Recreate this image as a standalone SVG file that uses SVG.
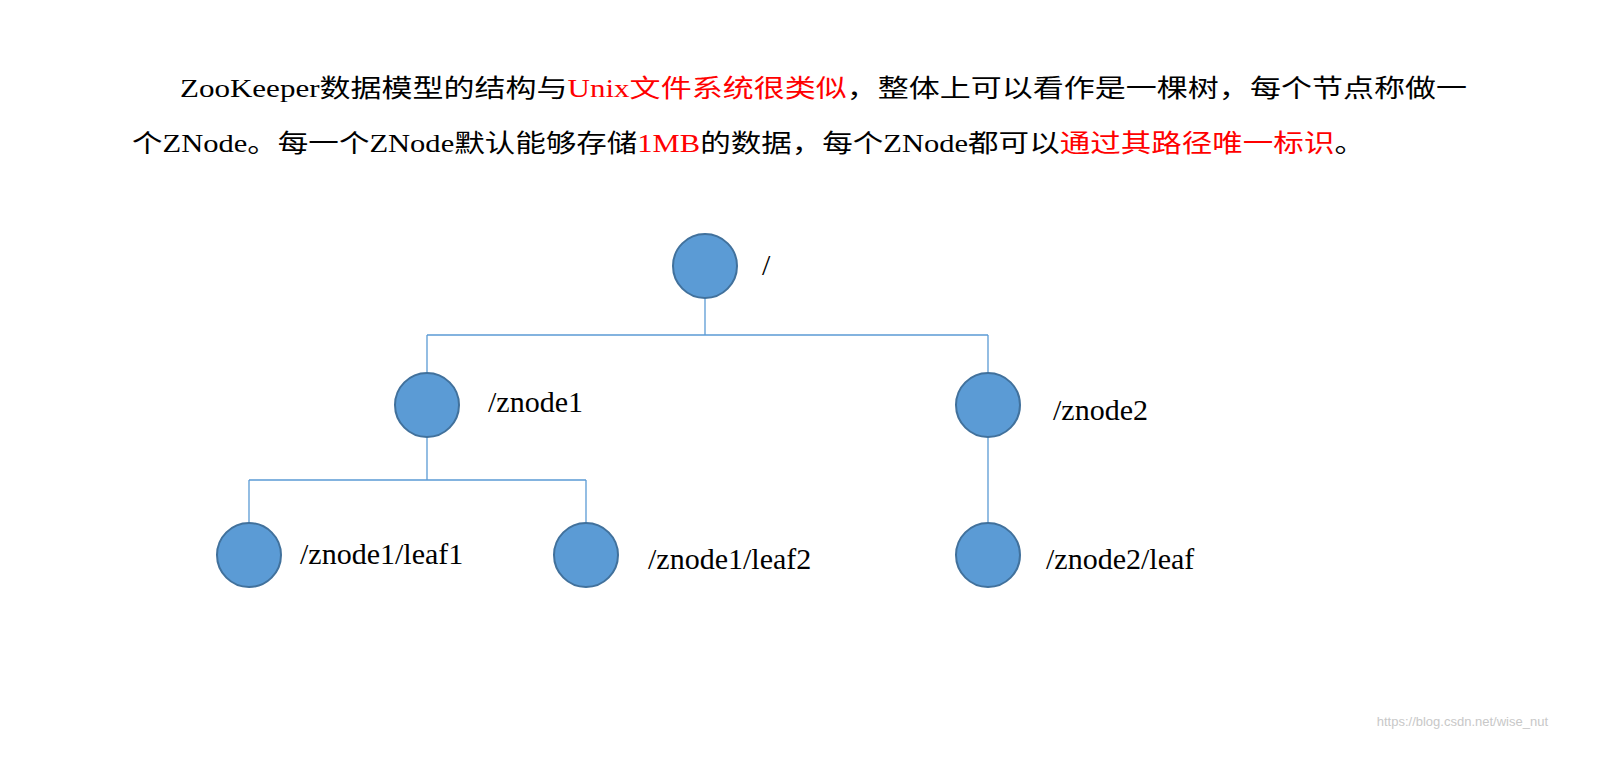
<svg xmlns="http://www.w3.org/2000/svg" width="1598" height="759" viewBox="0 0 1598 759">
<style>
.t{font-family:"Liberation Serif","Noto Sans CJK SC",serif;font-size:25px;fill:#000}
.r{fill:#ff0000}
.n{fill:#5b9bd5;stroke:#41719c;stroke-width:2}
.l{font-family:"Liberation Serif",serif;font-size:30px;fill:#000}
.c{fill:none;stroke:#5b9bd5;stroke-width:1.3}
</style>
<rect width="1598" height="759" fill="#fff"/>
<text class="t" x="180" y="97" textLength="1287" lengthAdjust="spacingAndGlyphs">ZooKeeper数据模型的结构与<tspan class="r">Unix文件系统很类似</tspan>，整体上可以看作是一棵树，每个节点称做一</text>
<text class="t" x="132" y="152" textLength="1233" lengthAdjust="spacingAndGlyphs">个ZNode。每一个ZNode默认能够存储<tspan class="r">1MB</tspan>的数据，每个ZNode都可以<tspan class="r">通过其路径唯一标识</tspan>。</text>
<g id="connectors">
<path class="c" d="M705 298V335M427 335H988M427 335V373M988 335V373M427 437V480M249 480H586M249 480V523M586 480V523M988 437V523"/>
</g>
<g id="root"><circle class="n" cx="705" cy="266" r="32"/><text class="l" x="762" y="275">/</text></g>
<g id="znode1"><circle class="n" cx="427" cy="405" r="32"/><text class="l" x="488" y="412">/znode1</text></g>
<g id="znode2"><circle class="n" cx="988" cy="405" r="32"/><text class="l" x="1053" y="420">/znode2</text></g>
<g id="leaf1"><circle class="n" cx="249" cy="555" r="32"/><text class="l" x="300" y="564">/znode1/leaf1</text></g>
<g id="leaf2"><circle class="n" cx="586" cy="555" r="32"/><text class="l" x="648" y="569">/znode1/leaf2</text></g>
<g id="leaf3"><circle class="n" cx="988" cy="555" r="32"/><text class="l" x="1046" y="569">/znode2/leaf</text></g>
<text x="1548" y="726" text-anchor="end" font-family="Liberation Sans,sans-serif" font-size="13" fill="#c8c8c8">https://blog.csdn.net/wise_nut</text>
</svg>
